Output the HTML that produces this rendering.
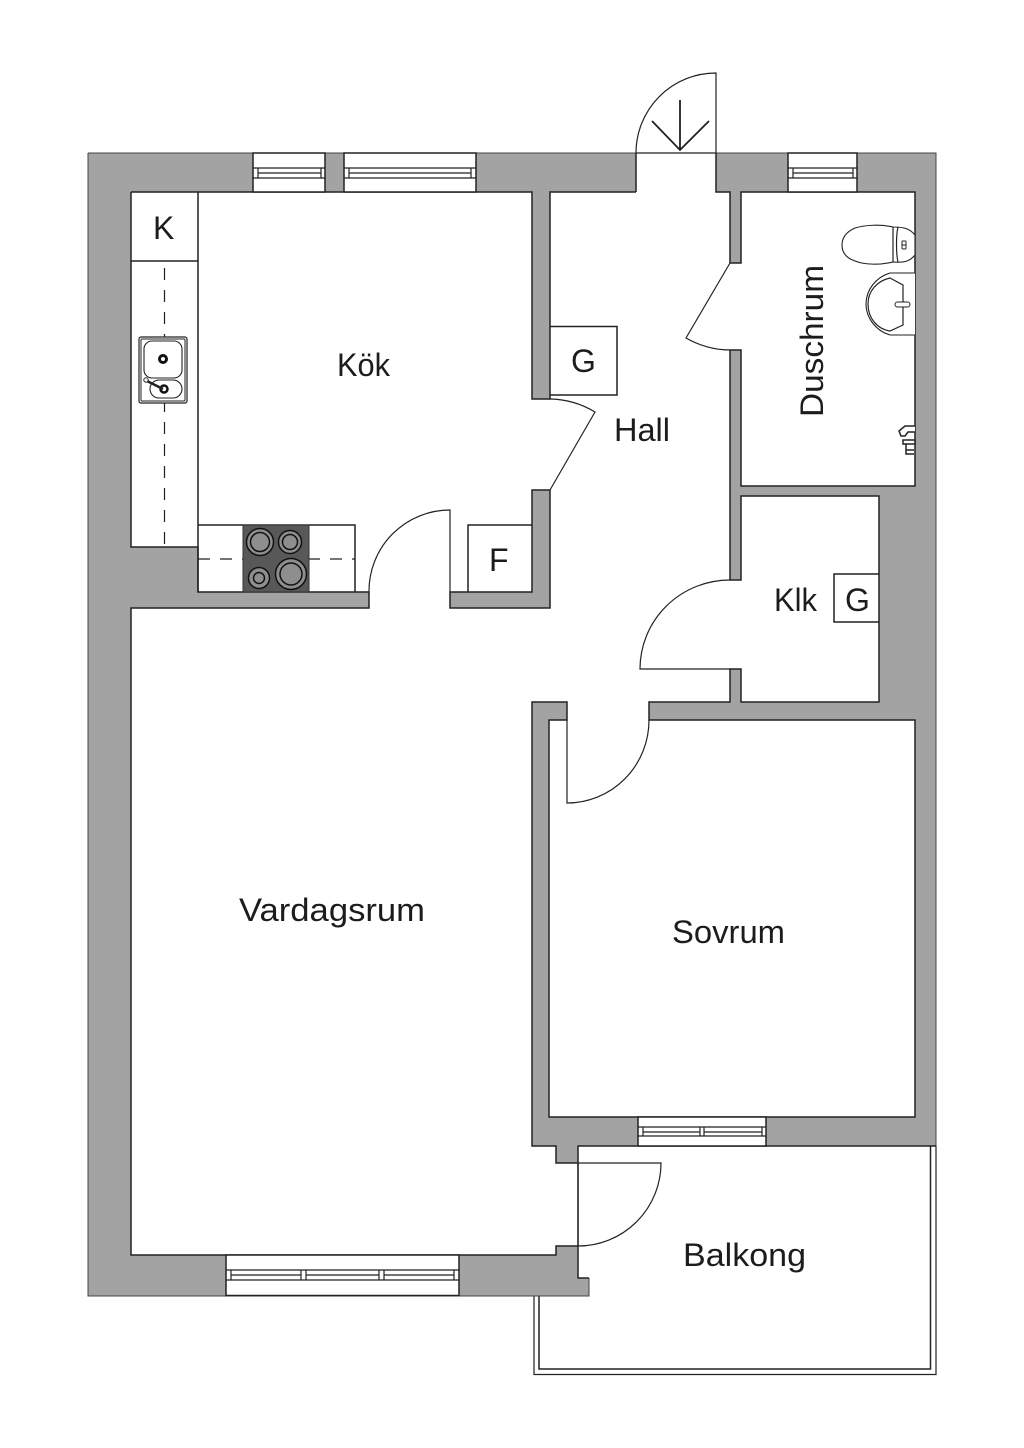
<!DOCTYPE html>
<html><head><meta charset="utf-8"><style>
html,body{margin:0;padding:0;background:#fff}
svg{display:block}
text{font-family:"Liberation Sans",sans-serif;font-size:32px;fill:#1c1c1c}
.l{fill:none;stroke:#222;stroke-width:1.5}
.t{fill:none;stroke:#222;stroke-width:1.2}
.w{fill:#fff;stroke:#222;stroke-width:1.5}
</style></head><body>
<svg width="1024" height="1448" viewBox="0 0 1024 1448" xmlns="http://www.w3.org/2000/svg">
<rect width="1024" height="1448" fill="#fff"/>
<!-- balcony rails -->
<path class="l" d="M930.5 1146V1369H539V1296"/>
<path class="t" d="M936 1146V1374.5H534V1296"/>
<!-- walls -->
<path fill="#a3a3a3" fill-rule="evenodd" d="M88 153H936V1146H578V1278H589V1296H88Z
M131 192H532V399H550V192H636V153H716V192H730V263H741V192H915V486H741V350H730V580H741V496H879V702H741V669H730V702H649V720H915V1117H549V720H567V702H532V1146H556V1163H578V1246H556V1255H131V608H369V592H198V547H131Z"/>
<path fill="none" stroke="#444" stroke-width="1" d="M88 153H936V1146M589 1278V1296H88V153"/>
<path fill="none" stroke="#222" stroke-width="1.5" d="M936 1146H578V1278H589M131 192H532V399H550V192H636M636 192V153M716 153V192H730V263H741V192H915V486H741V350H730V580H741V496H879V702H741V669H730V702H649V720H915V1117H549V720H567V702H532V1146H556V1163H578M578 1246H556V1255H131V608H369V592H198V547H131V192"/>
<path fill="#a3a3a3" stroke="#222" stroke-width="1.5" d="M450 592H532V490H550V608H450Z"/>
<!-- windows -->
<g>
<rect class="w" x="253" y="153" width="72" height="39"/>
<path class="t" d="M253 168H325M253 178H325M258 173H321M258 168V178M321 168V178"/>
<rect class="w" x="344" y="153" width="132" height="39"/>
<path class="t" d="M344 168H476M344 178H476M349 173H471M349 168V178M471 168V178"/>
<rect class="w" x="788" y="153" width="69" height="39"/>
<path class="t" d="M788 168H857M788 178H857M793 173H853M793 168V178M853 168V178"/>
<rect class="w" x="638" y="1117" width="128" height="29"/>
<path class="t" d="M638 1127H766M638 1136H766M643 1132H700M704 1132H762M643 1127V1136M762 1127V1136M700 1127V1136M704 1127V1136"/>
<rect class="w" x="226" y="1255" width="233" height="40.5"/>
<path class="t" d="M226 1270H459M226 1280H459M231 1275H301M306 1275H379M384 1275H454M231 1270V1280M454 1270V1280M301 1270V1280M306 1270V1280M379 1270V1280M384 1270V1280"/>
</g>
<!-- doors -->
<path class="t" d="M636 153H716M636 153A80 80 0 0 1 716 73V153"/>
<path fill="none" stroke="#222" stroke-width="1.8" d="M680 100V150M652 121L680 150L709 121"/>
<path class="t" d="M730 263L686 338A90 90 0 0 0 730 350"/>
<path class="t" d="M550 399A90 90 0 0 1 595 412L550 490"/>
<path class="t" d="M369 592A81 81 0 0 1 450 510V592"/>
<path class="t" d="M730 580A90 89 0 0 0 640 669H730"/>
<path class="t" d="M649 720A82 83 0 0 1 567 803V720"/>
<path class="t" d="M578 1163H661A83 83 0 0 1 578 1246V1163"/>
<!-- kitchen -->
<path class="l" d="M198 192V592M131 261H198M198 525H355V592"/>
<path class="t" stroke-dasharray="12 10" d="M164.5 268V547"/>
<path class="t" stroke-dasharray="12 10" d="M198 559H355"/>
<rect x="139" y="337" width="48" height="66" rx="2" fill="#fff" stroke="#222" stroke-width="1.2"/>
<rect x="141" y="339" width="44" height="62" rx="1" fill="none" stroke="#222" stroke-width="1"/>
<rect x="144" y="341" width="38" height="37" rx="8" fill="#fff" stroke="#222" stroke-width="1.1"/>
<rect x="150" y="380" width="32" height="18" rx="9" fill="#fff" stroke="#222" stroke-width="1.1"/>
<circle cx="163" cy="359" r="3.5" fill="none" stroke="#111" stroke-width="3"/>
<circle cx="164" cy="389" r="3.5" fill="none" stroke="#111" stroke-width="2.5"/>
<path stroke="#222" stroke-width="2.5" d="M147 381L163 389"/>
<circle cx="146" cy="380" r="2.2" fill="#fff" stroke="#222" stroke-width="1"/>
<rect x="243" y="525" width="66" height="67" fill="#585858" stroke="#333" stroke-width="1"/>
<g stroke="#111" fill="#8e8e8e">
<circle cx="260" cy="542" r="13.5" stroke-width="1.5"/><circle cx="260" cy="542" r="9.5" stroke-width="1.5"/>
<circle cx="290" cy="542" r="11.5" stroke-width="1.5"/><circle cx="290" cy="542" r="7.5" stroke-width="1.5"/>
<circle cx="259" cy="578" r="10.5" stroke-width="1.5"/><circle cx="259" cy="578" r="5.5" stroke-width="1.5"/>
<circle cx="291" cy="574" r="15.5" stroke-width="1.5"/><circle cx="291" cy="574" r="11" stroke-width="1.5"/>
</g>
<!-- storage boxes -->
<path class="l" d="M550 326.5H617V395H550"/>
<path class="l" d="M468 592V525H532"/>
<path class="l" d="M879 574H834V622H879"/>
<!-- toilet -->
<path fill="#fff" stroke="#222" stroke-width="1.1" d="M915 235C910 229 905 227 893 227C880 224 865 225 855 228C846 232 842 238 842 245C842 252 846 258 855 261C865 265 880 265 893 262C905 263 910 261 915 255Z"/>
<path class="t" d="M893 227V262M898 227C896 235 896 254 898 262"/>
<rect x="902" y="241" width="4" height="8" rx="1" fill="#fff" stroke="#222" stroke-width="1"/><path stroke="#222" d="M902 245H906"/>
<!-- basin -->
<path fill="#fff" stroke="#222" stroke-width="1.1" d="M915 273H890C876 277 866 290 866 304C866 318 876 331 890 335H915"/>
<path class="t" d="M890 278L903 285V325L890 331C877 329 868 318 868 304C868 291 877 281 890 278Z"/>
<rect x="895" y="302" width="15" height="5" rx="2.5" fill="#fff" stroke="#222" stroke-width="1"/>
<!-- shower -->
<path fill="#fff" stroke="#222" stroke-width="1.5" d="M915 426H905L899 431L901 436H905L908 432H915M903 440H915V444H903ZM906 444V454H914M906 450H914"/>
<!-- labels -->
<text x="153" y="239">K</text>
<text x="337" y="376" textLength="53" lengthAdjust="spacingAndGlyphs">Kök</text>
<text x="571" y="372">G</text>
<text x="614" y="441" textLength="56" lengthAdjust="spacingAndGlyphs">Hall</text>
<text x="489" y="571">F</text>
<text x="774" y="611" textLength="43" lengthAdjust="spacingAndGlyphs">Klk</text>
<text x="845" y="611">G</text>
<text x="239" y="921" textLength="186" lengthAdjust="spacingAndGlyphs">Vardagsrum</text>
<text x="672" y="943" textLength="113" lengthAdjust="spacingAndGlyphs">Sovrum</text>
<text x="683" y="1266" textLength="123" lengthAdjust="spacingAndGlyphs">Balkong</text>
<text transform="translate(823 417) rotate(-90)" textLength="152" lengthAdjust="spacingAndGlyphs">Duschrum</text>
</svg>
</body></html>
